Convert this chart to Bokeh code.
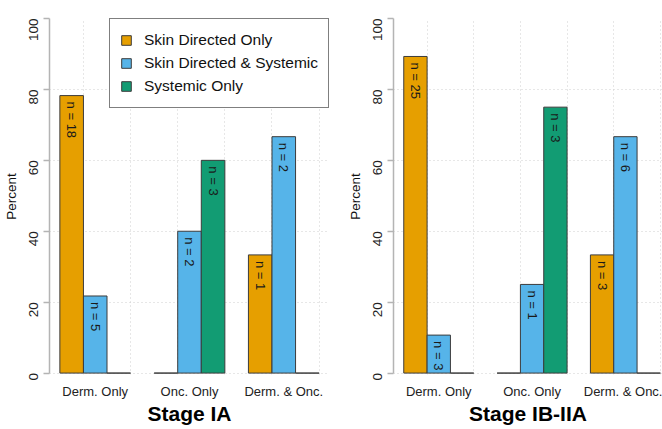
import math
from bokeh.plotting import figure
from bokeh.layouts import row
from bokeh.models import Range1d, FixedTicker, ColumnDataSource
from bokeh.core.properties import value
from bokeh.embed import file_html
from bokeh.resources import INLINE

# ---------------- data ----------------
categories = ["Derm. Only", "Onc. Only", "Derm. & Onc."]
series = ["Skin Directed Only", "Skin Directed & Systemic", "Systemic Only"]
colors = ["#E69F00", "#56B4E9", "#129C73"]

# Stage IA (percent within each category) and counts
ia_skin_only = [78.26, 0.0, 33.33]
ia_skin_sys = [21.74, 40.0, 66.67]
ia_sys_only = [0.0, 60.0, 0.0]
ia_n_skin_only = [18, 0, 1]
ia_n_skin_sys = [5, 2, 2]
ia_n_sys_only = [0, 3, 0]

# Stage IB-IIA
ib_skin_only = [89.29, 0.0, 33.33]
ib_skin_sys = [10.71, 25.0, 66.67]
ib_sys_only = [0.0, 75.0, 0.0]
ib_n_skin_only = [25, 0, 3]
ib_n_skin_sys = [3, 1, 6]
ib_n_sys_only = [0, 3, 0]

y_ticks = [0, 20, 40, 60, 80, 100]

FONT = "Liberation Sans"


def make_panel(title, vals, counts, width, left_border, right_border, x_end, legend):
    p = figure(width=width, height=429, output_backend="svg", toolbar_location=None,
               x_range=Range1d(0.56, x_end), y_range=Range1d(-0.4, 100),
               min_border_left=left_border, min_border_right=right_border,
               min_border_top=18, min_border_bottom=55)
    p.outline_line_color = None
    p.border_fill_color = "white"
    p.background_fill_color = "white"

    # grid
    p.xgrid.ticker = FixedTicker(ticks=[2, 4, 6, 8, 10, 12])
    for g in (p.xgrid, p.ygrid):
        g.grid_line_color = "#cfcfcf"
        g.grid_line_dash = "1 3"
        g.grid_line_width = 1

    # bars
    for j, (name, col) in enumerate(zip(series, colors)):
        xs = [1.5 + 4 * gi + j for gi in range(len(categories))]
        src = ColumnDataSource(dict(x=xs, top=vals[j]))
        kw = dict(legend_label=name) if legend else {}
        p.vbar(x="x", top="top", bottom=0, width=1.0, source=src,
               fill_color=col, line_color="#3c3c3c", line_width=1, **kw)
        # n labels
        lx, ly, lt = [], [], []
        for gi in range(len(categories)):
            if counts[j][gi] > 0:
                lx.append(xs[gi])
                ly.append(vals[j][gi])
                lt.append("n = %d" % counts[j][gi])
        p.text(x=lx, y=ly, text=lt, angle=-math.pi / 2, text_align="left",
               text_baseline="middle", y_offset=6, text_font=value(FONT),
               text_font_size="13px", text_color="#1a1a1a")

    # y axis
    ya = p.yaxis[0]
    ya.ticker = FixedTicker(ticks=y_ticks)
    ya.bounds = (0, 100)
    ya.major_label_orientation = math.pi / 2
    ya.axis_line_color = "#b4b4b4"
    ya.axis_line_width = 1.5
    ya.major_tick_line_color = "#b4b4b4"
    ya.major_tick_line_width = 1.5
    ya.major_tick_in = 0
    ya.major_tick_out = 6
    ya.minor_tick_line_color = None
    ya.major_label_standoff = 10
    ya.major_label_text_font = FONT
    ya.major_label_text_font_size = "13.5px"
    ya.major_label_text_color = "#222222"
    ya.axis_label = "Percent"
    ya.axis_label_text_font = FONT
    ya.axis_label_text_font_style = "normal"
    ya.axis_label_text_font_size = "13.5px"
    ya.axis_label_text_color = "#111111"
    ya.axis_label_standoff = 3

    # x axis
    xa = p.xaxis[0]
    xa.ticker = FixedTicker(ticks=[2.5, 6.5, 10.5])
    xa.major_label_overrides = {2.5: categories[0], 6.5: categories[1], 10.5: categories[2]}
    xa.axis_line_color = None
    xa.major_tick_line_color = None
    xa.minor_tick_line_color = None
    xa.major_tick_in = 0
    xa.major_tick_out = 0
    xa.major_label_standoff = 9
    xa.major_label_text_font = FONT
    xa.major_label_text_font_size = "13px"
    xa.major_label_text_color = "#222222"
    xa.axis_label = title
    xa.axis_label_text_font = FONT
    xa.axis_label_text_font_style = "bold"
    xa.axis_label_text_font_size = "21px"
    xa.axis_label_text_color = "#000000"
    xa.axis_label_standoff = 0

    if legend:
        lg = p.legend[0]
        lg.location = "top_right"
        lg.margin = 0
        lg.border_line_color = "black"
        lg.border_line_width = 1
        lg.background_fill_color = "white"
        lg.background_fill_alpha = 1.0
        lg.label_text_font = FONT
        lg.label_text_font_size = "15.5px"
        lg.label_text_color = "#111111"
        lg.glyph_width = 12
        lg.glyph_height = 12
        lg.label_height = 22
        lg.label_standoff = 12
        lg.padding = 10
        lg.spacing = 1
    return p


p1 = make_panel("Stage IA",
                [ia_skin_only, ia_skin_sys, ia_sys_only],
                [ia_n_skin_only, ia_n_skin_sys, ia_n_sys_only],
                width=340, left_border=49, right_border=11, x_end=12.44, legend=True)
p2 = make_panel("Stage IB-IIA",
                [ib_skin_only, ib_skin_sys, ib_sys_only],
                [ib_n_skin_only, ib_n_skin_sys, ib_n_sys_only],
                width=322, left_border=53, right_border=0, x_end=12.09, legend=False)

layout = row(p1, p2)
open("out.html", "w").write(file_html(layout, INLINE))
